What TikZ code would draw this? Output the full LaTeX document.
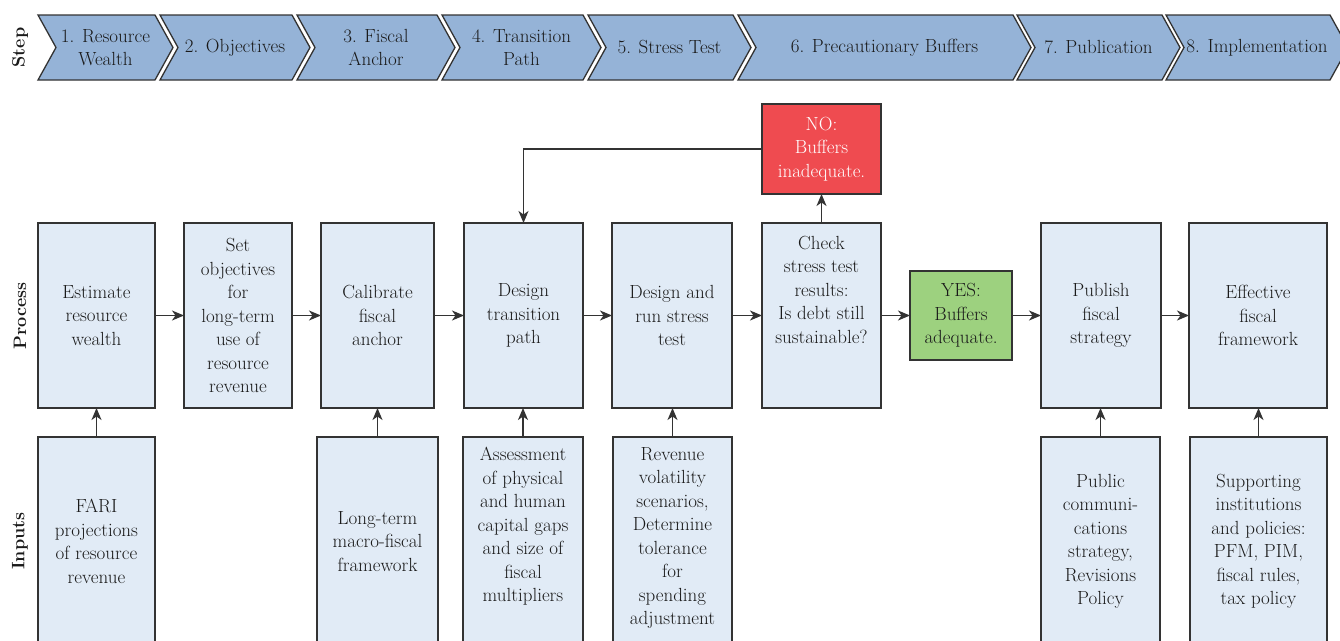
\documentclass[tikz,border=0pt]{standalone}
\usetikzlibrary{arrows.meta,positioning}
\definecolor{chev}{HTML}{95B3D7}
\definecolor{pfill}{HTML}{E1EBF6}
\definecolor{edge}{HTML}{333333}
\definecolor{nored}{HTML}{EF4B50}
\definecolor{yesgreen}{HTML}{9DD17F}
\definecolor{ink}{HTML}{1A1A1A}
\tikzset{
  chevshape/.style={fill=chev,draw=edge,line width=1.3pt,line join=miter},
  chevtxt/.style={text=ink,align=center,font=\fontsize{19}{23.5}\selectfont,inner sep=0pt},
  pbox/.style={draw=edge,fill=pfill,line width=1.4pt,inner sep=0pt,outer sep=0pt,text=ink,align=center,font=\fontsize{19}{23.5}\selectfont},
  txt/.style={text=ink,align=center,font=\fontsize{19}{23.5}\selectfont,inner sep=0pt},
  rowlbl/.style={text=ink,font=\fontsize{18}{22}\selectfont\bfseries,rotate=90,inner sep=0pt},
  arr/.style={draw=edge,line width=1.5pt,-{Stealth[length=12pt,width=10pt,inset=3.5pt]}}
}
\newcommand{\chevron}[4]{%
  \path[chevshape] (#1,15) -- (#2,15) -- (#2+18,47.5) -- (#2,80) -- (#1,80) -- (#1+18,47.5) -- cycle;
  \node[chevtxt] (#3) at ({(#1+#2+18)/2},47.5) {#4};}
\begin{document}
\begin{tikzpicture}[x=1pt,y=-1pt]
\useasboundingbox (0,0) rectangle (1340,640);
\clip (0,0) rectangle (1340,640);
\fill[white] (0,0) rectangle (1340,640);

% Step chevrons
\chevron{38}{155}{s1}{1. Resource\\Wealth}
\chevron{160}{292}{s2}{2. Objectives}
\chevron{297}{437}{s3}{3. Fiscal\\Anchor}
\chevron{442}{583}{s4}{4. Transition\\Path}
\chevron{588}{733}{s5}{5. Stress Test}
\chevron{738}{1013}{s6}{6. Precautionary Buffers}
\chevron{1017}{1162}{s7}{7. Publication}
\chevron{1166}{1330}{s8}{8. Implementation}

% row labels
\node[rowlbl] (lstep) at (20,47.5) {Step};
\node[rowlbl] (lproc) at (20,316) {Process};
\node[rowlbl] (linp) at (20,541) {Inputs};

% process boxes
\node[pbox,minimum width=117pt,minimum height=185pt] (b1) at (96.5,315.5) {Estimate\\resource\\wealth};
\node[pbox,minimum width=108pt,minimum height=185pt] (b2) at (238,315.5) {Set\\objectives\\for\\long-term\\use of\\resource\\revenue};
\node[pbox,minimum width=113pt,minimum height=185pt] (b3) at (377.5,315.5) {Calibrate\\fiscal\\anchor};
\node[pbox,minimum width=119pt,minimum height=185pt] (b4) at (523.5,315.5) {Design\\transition\\path};
\node[pbox,minimum width=120pt,minimum height=185pt] (b5) at (672,315.5) {Design and\\run stress\\test};
\node[pbox,minimum width=119pt,minimum height=185pt] (b6) at (821.5,315.5) {};
\node[txt,anchor=north] (b6t) at (821.5,236) {Check\\stress test\\results:\\Is debt still\\sustainable?};
\node[pbox,fill=yesgreen,minimum width=102pt,minimum height=89pt] (yes) at (961,315.5) {YES:\\Buffers\\adequate.};
\node[pbox,fill=nored,text=white,minimum width=119pt,minimum height=90pt] (no) at (821.5,149) {NO:\\Buffers\\inadequate.};
\node[pbox,minimum width=120pt,minimum height=185pt] (b7) at (1101,315.5) {Publish\\fiscal\\strategy};
\node[pbox,minimum width=138pt,minimum height=185pt] (b8) at (1258,315.5) {Effective\\fiscal\\framework};

% input boxes
\node[pbox,minimum width=117pt,minimum height=216pt] (i1) at (96.5,545) {};
\node[txt] (i1t) at (96.5,541.5) {FARI\\projections\\of resource\\revenue};
\node[pbox,minimum width=121pt,minimum height=216pt] (i3) at (377.5,545) {};
\node[txt] (i3t) at (377.5,541.5) {Long-term\\macro-fiscal\\framework};
\node[pbox,minimum width=120pt,minimum height=216pt] (i4) at (523,545) {};
\node[txt,anchor=north] (i4t) at (523,447) {Assessment\\of physical\\and human\\capital gaps\\and size of\\fiscal\\multipliers};
\node[pbox,minimum width=119pt,minimum height=216pt] (i5) at (672.5,545) {};
\node[txt,anchor=north] (i5t) at (672.5,447) {Revenue\\volatility\\scenarios,\\Determine\\tolerance\\for\\spending\\adjustment};
\node[pbox,minimum width=119pt,minimum height=216pt] (i7) at (1100.5,545) {};
\node[txt] (i7t) at (1100.5,541.5) {Public\\communi-\\cations\\strategy,\\Revisions\\Policy};
\node[pbox,minimum width=137pt,minimum height=216pt] (i8) at (1258.5,545) {};
\node[txt] (i8t) at (1258.5,541.5) {Supporting\\institutions\\and policies:\\PFM, PIM,\\fiscal rules,\\tax policy};

% process arrows
\draw[arr] (b1.east) -- (b2.west);
\draw[arr] (b2.east) -- (b3.west);
\draw[arr] (b3.east) -- (b4.west);
\draw[arr] (b4.east) -- (b5.west);
\draw[arr] (b5.east) -- (b6.west);
\draw[arr] (b6.east) -- (yes.west);
\draw[arr] (yes.east) -- (b7.west);
\draw[arr] (b7.east) -- (b8.west);
\draw[arr] (b6.north) -- (no.south);
\draw[arr] (no.west) -| (b4.north);

% input arrows
\draw[arr] (i1.north) -- (i1.north |- b1.south);
\draw[arr] (i3.north) -- (i3.north |- b3.south);
\draw[arr] (i4.north) -- (i4.north |- b4.south);
\draw[arr] (i5.north) -- (i5.north |- b5.south);
\draw[arr] (i7.north) -- (i7.north |- b7.south);
\draw[arr] (i8.north) -- (i8.north |- b8.south);
\end{tikzpicture}
\end{document}
